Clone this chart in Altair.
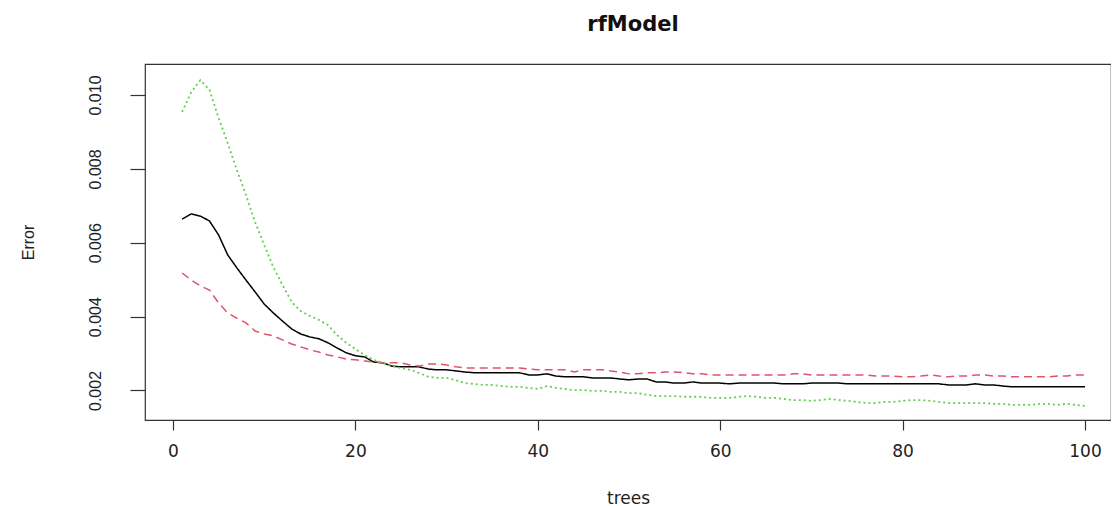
import altair as alt
import pandas as pd

trees = list(range(1, 101))

oob = [0.00664, 0.00678, 0.00672, 0.00659, 0.00621, 0.00567, 0.00532, 0.00499, 0.00467, 0.00434,
       0.00410, 0.00388, 0.00367, 0.00353, 0.00345, 0.00340, 0.00329, 0.00315, 0.00302, 0.00294,
       0.00291, 0.00277, 0.00275, 0.00266, 0.00264, 0.00264, 0.00264, 0.00258, 0.00256, 0.00256,
       0.00253, 0.00250, 0.00248, 0.00248, 0.00248, 0.00248, 0.00248, 0.00248, 0.00242, 0.00242,
       0.00245, 0.00239, 0.00237, 0.00237, 0.00237, 0.00234, 0.00234, 0.00234, 0.00231, 0.00229,
       0.00231, 0.00231, 0.00223, 0.00223, 0.00220, 0.00220, 0.00223, 0.00220, 0.00220, 0.00220,
       0.00218, 0.00220, 0.00220, 0.00220, 0.00220, 0.00220, 0.00218, 0.00218, 0.00218, 0.00220,
       0.00220, 0.00220, 0.00220, 0.00218, 0.00218, 0.00218, 0.00218, 0.00218, 0.00218, 0.00218,
       0.00218, 0.00218, 0.00218, 0.00218, 0.00215, 0.00215, 0.00215, 0.00218, 0.00215, 0.00215,
       0.00212, 0.00210, 0.00210, 0.00210, 0.00210, 0.00210, 0.00210, 0.00210, 0.00210, 0.00210]

class1 = [0.00518, 0.00499, 0.00483, 0.00472, 0.00437, 0.00410, 0.00396, 0.00383, 0.00361, 0.00353,
          0.00348, 0.00337, 0.00326, 0.00318, 0.00310, 0.00304, 0.00296, 0.00291, 0.00285, 0.00283,
          0.00280, 0.00277, 0.00275, 0.00275, 0.00275, 0.00269, 0.00266, 0.00272, 0.00272, 0.00269,
          0.00264, 0.00261, 0.00261, 0.00261, 0.00261, 0.00261, 0.00261, 0.00261, 0.00258, 0.00256,
          0.00256, 0.00256, 0.00256, 0.00250, 0.00256, 0.00256, 0.00256, 0.00253, 0.00250, 0.00245,
          0.00245, 0.00248, 0.00248, 0.00250, 0.00250, 0.00248, 0.00245, 0.00245, 0.00242, 0.00242,
          0.00242, 0.00242, 0.00242, 0.00242, 0.00242, 0.00242, 0.00242, 0.00245, 0.00245, 0.00242,
          0.00242, 0.00242, 0.00242, 0.00242, 0.00242, 0.00242, 0.00239, 0.00239, 0.00239, 0.00237,
          0.00237, 0.00239, 0.00242, 0.00239, 0.00237, 0.00239, 0.00239, 0.00242, 0.00242, 0.00239,
          0.00239, 0.00237, 0.00237, 0.00237, 0.00237, 0.00237, 0.00239, 0.00239, 0.00242, 0.00242]

class2 = [0.00954, 0.01008, 0.01040, 0.01014, 0.00938, 0.00870, 0.00797, 0.00729, 0.00656, 0.00594,
          0.00534, 0.00486, 0.00440, 0.00415, 0.00402, 0.00391, 0.00377, 0.00350, 0.00329, 0.00312,
          0.00296, 0.00283, 0.00275, 0.00266, 0.00261, 0.00256, 0.00247, 0.00237, 0.00234, 0.00234,
          0.00228, 0.00220, 0.00218, 0.00215, 0.00215, 0.00212, 0.00210, 0.00210, 0.00207, 0.00204,
          0.00212, 0.00207, 0.00204, 0.00201, 0.00201, 0.00199, 0.00199, 0.00196, 0.00196, 0.00193,
          0.00193, 0.00188, 0.00185, 0.00185, 0.00185, 0.00183, 0.00183, 0.00183, 0.00180, 0.00180,
          0.00180, 0.00183, 0.00185, 0.00183, 0.00180, 0.00180, 0.00177, 0.00174, 0.00174, 0.00172,
          0.00174, 0.00177, 0.00174, 0.00172, 0.00169, 0.00166, 0.00166, 0.00169, 0.00169, 0.00172,
          0.00174, 0.00174, 0.00172, 0.00169, 0.00166, 0.00166, 0.00166, 0.00166, 0.00166, 0.00164,
          0.00164, 0.00161, 0.00161, 0.00161, 0.00164, 0.00164, 0.00161, 0.00164, 0.00161, 0.00158]

x_ticks = [0, 20, 40, 60, 80, 100]
y_ticks = [0.002, 0.004, 0.006, 0.008, 0.010]

series_names = ["OOB", "1", "2"]
series_colors = ["#000000", "#DF536B", "#61D04F"]

frames = []
for name, vals in zip(series_names, [oob, class1, class2]):
    frames.append(pd.DataFrame({"trees": trees, "Error": vals, "series": name}))
df = pd.concat(frames, ignore_index=True)

x_enc = alt.X("trees:Q",
              scale=alt.Scale(domain=[-3.07, 102.85], nice=False, zero=False),
              axis=alt.Axis(values=x_ticks, title="trees", grid=False, domain=False,
                            tickSize=10, tickColor="#333333", tickWidth=1.2,
                            labelFont="DejaVu Sans", labelFontSize=17, labelColor="#222222",
                            labelPadding=13,
                            titleFont="DejaVu Sans", titleFontSize=17, titleFontWeight="normal",
                            titleColor="#222222", titleY=83, titleBaseline="alphabetic"))
y_enc = alt.Y("Error:Q",
              scale=alt.Scale(domain=[0.001201, 0.010839], nice=False, zero=False),
              axis=alt.Axis(values=y_ticks, format=".3f", title="Error", grid=False, domain=False,
                            tickSize=15, tickColor="#333333", tickWidth=1.2,
                            labelAngle=270, labelAlign="center", labelBaseline="alphabetic",
                            labelFont="Liberation Sans", labelFontSize=16, labelColor="#222222",
                            labelPadding=30,
                            titleFont="Liberation Sans", titleFontSize=16, titleFontWeight="normal",
                            titleColor="#222222", titleAngle=270, titleX=-112, titleY=178,
                            titleAlign="center", titleBaseline="alphabetic"))

layers = []
dashes = [[1, 0], [8, 5], [2, 3]]
widths = [1.5, 1.5, 1.8]
for name, col, dash, w in zip(series_names, series_colors, dashes, widths):
    layers.append(
        alt.Chart(df[df["series"] == name]).mark_line(
            color=col, strokeDash=dash, strokeWidth=w, clip=True
        ).encode(x=x_enc, y=y_enc, order="trees:Q")
    )

chart = alt.layer(*layers).properties(
    width=966, height=356,
    title=alt.TitleParams("rfModel", font="DejaVu Sans", fontSize=21, fontWeight="bold",
                          color="#111111", anchor="middle", offset=8, baseline="bottom", dx=5),
    padding={"left": 137, "top": 56, "right": 0, "bottom": 86},
    autosize=alt.AutoSizeParams(type="none"),
).configure(background="white").configure_view(stroke="#333333", strokeWidth=1.2)

chart.save("out.html", embed_options={"renderer": "svg", "actions": False})
